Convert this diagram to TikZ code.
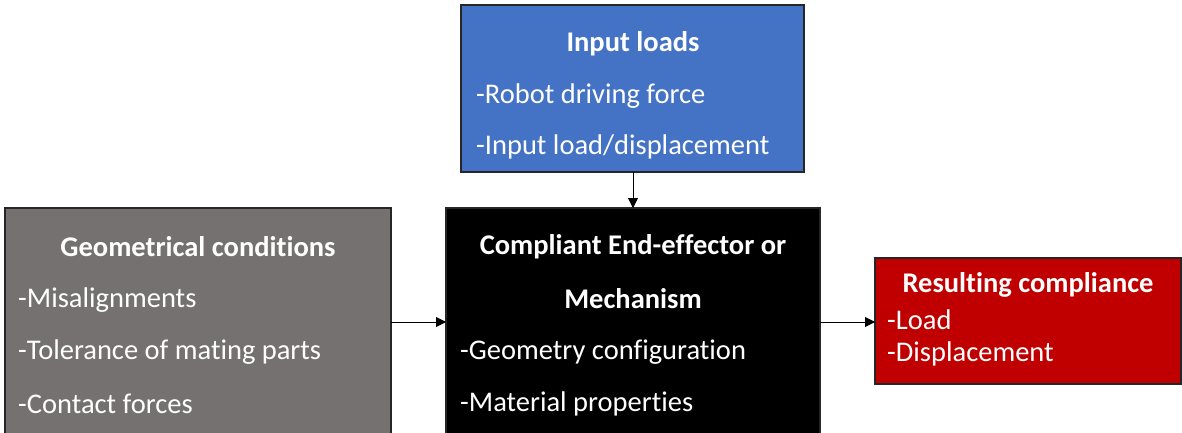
\documentclass[tikz,border=0pt]{standalone}
\usepackage{fontspec}
\setmainfont{Carlito}[Ligatures={NoCommon}]
\usetikzlibrary{arrows.meta}
\definecolor{cblue}{HTML}{4472C4}
\definecolor{cgray}{HTML}{767171}
\definecolor{cred}{HTML}{C00000}
\definecolor{cedge}{HTML}{262626}
\begin{document}
\begin{tikzpicture}[x=1pt,y=-1pt,
  box/.style={draw=cedge,line width=1.4pt},
  txt/.style={text=white,inner sep=0pt,yshift=-2pt,font=\fontsize{28.5}{32}\selectfont},
  ttl/.style={txt,font=\fontsize{28.5}{32}\selectfont\bfseries},
  conn/.style={draw=black,line width=0.9pt,-{Triangle[length=10pt,width=10pt]}}]
\clip (0,0) rectangle (1182,432);
% boxes
\path[box,fill=cblue] (461,5) rectangle (804,172);
\path[box,fill=cgray] (5,208) rectangle (391,450);
\path[box,fill=black] (446,208) rectangle (820,450);
\path[box,fill=cred] (875,258) rectangle (1181,384);
\coordinate (inB) at (633,172);
\coordinate (cpT) at (633,208);
\coordinate (geR) at (391,322);
\coordinate (cpL) at (446,322);
\coordinate (cpR) at (820,322);
\coordinate (reL) at (875,322);
% input loads
\node[ttl,anchor=center] (t1) at (633,42) {Input loads};
\node[txt,anchor=west] (t1a) at (476,94) {-Robot driving force};
\node[txt,anchor=west] (t1b) at (476,145) {-Input load/displacement};
% geometrical
\node[ttl,anchor=center] (t2) at (198,245) {Geometrical conditions};
\node[txt,anchor=west] (t2a) at (18,298) {-Misalignments};
\node[txt,anchor=west] (t2b) at (18,350) {-Tolerance of mating parts};
\node[txt,anchor=west] (t2c) at (18,402) {-Contact forces};
% compliant
\node[ttl,anchor=center] (t3) at (633,245) {Compliant End-effector or};
\node[ttl,anchor=center] (t3m) at (633,297) {Mechanism};
\node[txt,anchor=west] (t3a) at (460,350) {-Geometry configuration};
\node[txt,anchor=west] (t3b) at (460,402) {-Material properties};
% resulting
\node[ttl,anchor=center] (t4) at (1028,283) {Resulting compliance};
\node[txt,anchor=west] (t4a) at (887,318) {-Load};
\node[txt,anchor=west] (t4b) at (887,352) {-Displacement};
% connectors
\draw[conn] (inB) -- (cpT);
\draw[conn] (geR) -- (cpL);
\draw[conn] (cpR) -- (reL);
\end{tikzpicture}
\end{document}
